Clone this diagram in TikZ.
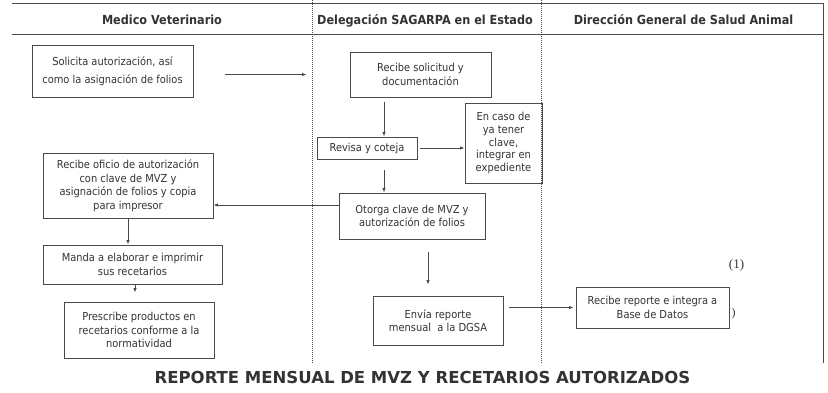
\documentclass[tikz,border=0pt]{standalone}
\usepackage{fontspec}
\newfontfamily\boxfont{DejaVu Sans}[FakeStretch=0.9]
\newfontfamily\titlefont{DejaVu Sans}
\newfontfamily\numfont{Liberation Serif}
\usetikzlibrary{arrows.meta,calc}
\definecolor{ink}{HTML}{333333}
\definecolor{linec}{HTML}{4A4A4A}
\begin{document}
\begin{tikzpicture}[x=1pt,y=-1pt,
  stepbox/.style={draw=linec, line width=0.9pt, text=ink, align=center, inner sep=0pt,
    font=\boxfont\fontsize{11}{13.5}\selectfont},
  arr/.style={draw=linec, line width=0.8pt, -{Latex[length=4.5pt,width=3.5pt]}},
  lane/.style={draw=linec, line width=0.8pt, dash pattern=on 1pt off 1pt},
  frame/.style={draw=linec, line width=0.8pt},
  head/.style={text=ink, anchor=base, font=\boxfont\bfseries\fontsize{12.5}{15}\selectfont}]
\useasboundingbox (0,0) rectangle (828,392);
% lanes
\draw[frame] (12,3) -- (823,3) -- (823,363);
\draw[frame] (12,34) -- (823,34);
\draw[lane] (312,0) -- (312,363);
\draw[lane] (541,0) -- (541,363);
% headers
\node[head] (h1) at (162,24.5) {Medico Veterinario};
\node[head] (h2) at (425,24.5) {Delegación SAGARPA en el Estado};
\node[head] (h3) at (683.5,24.5) {Dirección General de Salud Animal};
% boxes
\node[stepbox, minimum width=161pt, minimum height=52pt, font=\boxfont\fontsize{11}{17.5}\selectfont] (sol) at (112.5,71)
  {Solicita autorización, así\\como la asignación de folios};
\node[stepbox, minimum width=141pt, minimum height=45pt] (rec) at (420.5,74.5)
  {Recibe solicitud y\\documentación};
\node[stepbox, minimum width=100pt, minimum height=22pt] (rev) at (367,148)
  {Revisa y coteja};
\node[stepbox, minimum width=77pt, minimum height=80pt, font=\boxfont\fontsize{11}{12.9}\selectfont] (caso) at (503.5,143)
  {En caso de\\ya tener\\clave,\\integrar en\\expediente};
\node[stepbox, minimum width=146pt, minimum height=46pt, font=\boxfont\fontsize{11}{12.8}\selectfont] (oto) at (412,216)
  {Otorga clave de MVZ y\\autorización de folios};
\node[stepbox, minimum width=170pt, minimum height=65pt] (ofi) at (128,185.5)
  {Recibe oficio de autorización\\con clave de MVZ y\\asignación de folios y copia\\para impresor};
\node[stepbox, minimum width=179pt, minimum height=39pt] (manda) at (132.5,264.5)
  {Manda a elaborar e imprimir\\sus recetarios};
\node[stepbox, minimum width=150pt, minimum height=56pt] (pres) at (139,330)
  {Prescribe productos en\\recetarios conforme a la\\normatividad};
\node[stepbox, minimum width=130pt, minimum height=49pt] (env) at (438,320.5)
  {Envía reporte\\mensual\ \ a la DGSA};
\node[stepbox, minimum width=153pt, minimum height=41pt] (recrep) at (652.5,307.5)
  {Recibe reporte e integra a\\Base de Datos};
% reference coordinates
\coordinate (c1) at (384,0);
\coordinate (c2) at (0,205);
\coordinate (c3) at (135,0);
\coordinate (c4) at (428,0);
% connectors
\draw[arr, shorten <=32pt, shorten >=43pt] (sol.east |- rec.west) -- (rec.west);
\draw[arr, shorten <=5pt] (rec.south -| c1) -- (rev.north -| c1);
\draw[arr, shorten <=3pt] (rev.east) -- (rev.east -| caso.west);
\draw[arr, shorten <=11pt] (rev.south -| c1) -- (oto.north -| c1);
\draw[arr] (oto.west |- c2) -- (ofi.east |- c2);
\draw[arr] (ofi.south) -- (manda.north -| ofi.south);
\draw[arr, shorten >=9pt] (manda.south -| c3) -- (pres.north -| c3);
\draw[arr, shorten <=13pt, shorten >=11pt] (oto.south -| c4) -- (env.north -| c4);
\draw[arr, shorten <=6pt, shorten >=2pt] (env.east |- recrep.west) -- (recrep.west);
% notes
\node[text=ink, font=\numfont\fontsize{13}{15}\selectfont] (n1) at (736.5,265) {(1)};
\node[text=ink, font=\numfont\fontsize{12}{14}\selectfont] (n2) at (733.5,314) {)};
% title
\node[text=ink, font=\titlefont\bfseries\fontsize{16.5}{20}\selectfont] (title) at (422.5,377.5)
  {REPORTE MENSUAL DE MVZ Y RECETARIOS AUTORIZADOS};
\end{tikzpicture}
\end{document}
